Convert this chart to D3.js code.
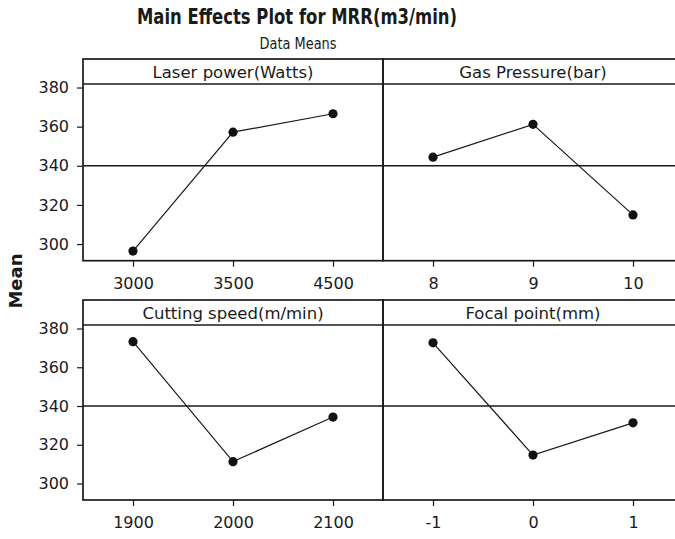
<!DOCTYPE html>
<html>
<head>
<meta charset="utf-8">
<script src="https://cdn.jsdelivr.net/npm/d3@7"></script>
<style>
  html, body { margin: 0; padding: 0; background: #fff; }
  svg text { font-family: "DejaVu Sans", Verdana, sans-serif; fill: #1a1a1a; }
</style>
</head>
<body>
<svg id="chart" width="675" height="539"></svg>
<script>
// ---- Data ----
const factors = ["Laser power(Watts)", "Gas Pressure(bar)", "Cutting speed(m/min)", "Focal point(mm)"];
const laserLevels = ["3000", "3500", "4500"];
const laserMeans = [296.4, 357.2, 366.6];
const gasLevels = ["8", "9", "10"];
const gasMeans = [344.4, 361.2, 314.9];
const speedLevels = ["1900", "2000", "2100"];
const speedMeans = [373.2, 311.3, 334.3];
const focalLevels = ["-1", "0", "1"];
const focalMeans = [372.6, 314.7, 331.3];
const yTicks = [300, 320, 340, 360, 380];
const grandMean = 340;

const panels = [
  { title: factors[0], levels: laserLevels, means: laserMeans, col: 0, row: 0 },
  { title: factors[1], levels: gasLevels, means: gasMeans, col: 1, row: 0 },
  { title: factors[2], levels: speedLevels, means: speedMeans, col: 0, row: 1 },
  { title: factors[3], levels: focalLevels, means: focalMeans, col: 1, row: 1 }
];

// ---- Layout ----
const svg = d3.select("#chart");
const colX = [83, 383];
const panelW = 300;
const rowTop = [59, 300];
const stripH = 25;
const plotBottom = [260.7, 500];
const ink = "#1a1a1a";

svg.append("text")
  .attr("x", 297).attr("y", 23.5)
  .attr("text-anchor", "middle")
  .attr("textLength", 320)
  .attr("lengthAdjust", "spacingAndGlyphs")
  .style("font-weight", "bold")
  .style("font-size", "21px")
  .text("Main Effects Plot for MRR(m3/min)");

svg.append("text")
  .attr("x", 298).attr("y", 48.5)
  .attr("text-anchor", "middle")
  .attr("textLength", 77)
  .attr("lengthAdjust", "spacingAndGlyphs")
  .style("font-size", "15.5px")
  .text("Data Means");

svg.append("text")
  .attr("transform", "translate(21.5,281) rotate(-90)")
  .attr("text-anchor", "middle")
  .style("font-weight", "bold")
  .style("font-size", "18px")
  .text("Mean");

panels.forEach(p => {
  const x0 = colX[p.col];
  const top = rowTop[p.row];
  const plotTop = top + stripH;
  const bottom = plotBottom[p.row];

  const x = d3.scalePoint().domain(p.levels).range([x0, x0 + panelW]).padding(0.5);
  const y = d3.scaleLinear().domain([291.5, 381.8]).range([bottom, plotTop]);

  const g = svg.append("g");

  // frame
  g.append("rect")
    .attr("x", x0).attr("y", top)
    .attr("width", panelW).attr("height", bottom - top)
    .attr("fill", "none").attr("stroke", ink).attr("stroke-width", 1.7);
  // strip separator
  g.append("line")
    .attr("x1", x0).attr("x2", x0 + panelW)
    .attr("y1", plotTop).attr("y2", plotTop)
    .attr("stroke", ink).attr("stroke-width", 1.6);
  g.append("text")
    .attr("x", x0 + panelW / 2).attr("y", top + stripH / 2 + 6)
    .attr("text-anchor", "middle")
    .style("font-size", "16.5px")
    .text(p.title);

  // reference line (grand mean)
  g.append("line")
    .attr("x1", x0).attr("x2", x0 + panelW)
    .attr("y1", y(grandMean)).attr("y2", y(grandMean))
    .attr("stroke", ink).attr("stroke-width", 1.5);

  // x axis
  const xa = g.append("g")
    .attr("transform", `translate(0,${bottom})`)
    .call(d3.axisBottom(x).tickSize(6).tickPadding(11));
  xa.select(".domain").remove();
  xa.selectAll(".tick line").attr("stroke", ink).attr("stroke-width", 1.2);
  xa.selectAll(".tick text")
    .style("font-size", "16px")
    .style("font-family", "'DejaVu Sans', sans-serif")
    .attr("fill", ink);

  // y axis (left column only)
  if (p.col === 0) {
    const ya = g.append("g")
      .attr("transform", `translate(${x0},0)`)
      .call(d3.axisLeft(y).tickValues(yTicks).tickSize(6).tickPadding(8));
    ya.select(".domain").remove();
    ya.selectAll(".tick line").attr("stroke", ink).attr("stroke-width", 1.2);
    ya.selectAll(".tick text")
      .style("font-size", "16px")
      .style("font-family", "'DejaVu Sans', sans-serif")
      .attr("fill", ink);
  }

  const pts = p.levels.map((l, i) => ({ l, v: p.means[i] }));
  g.append("path")
    .datum(pts)
    .attr("fill", "none")
    .attr("stroke", ink)
    .attr("stroke-width", 1.2)
    .attr("d", d3.line().x(d => x(d.l)).y(d => y(d.v)));
  g.selectAll("circle.pt")
    .data(pts)
    .enter().append("circle")
    .attr("class", "pt")
    .attr("cx", d => x(d.l)).attr("cy", d => y(d.v))
    .attr("r", 4.6)
    .attr("fill", "#111");
});
</script>
</body>
</html>
